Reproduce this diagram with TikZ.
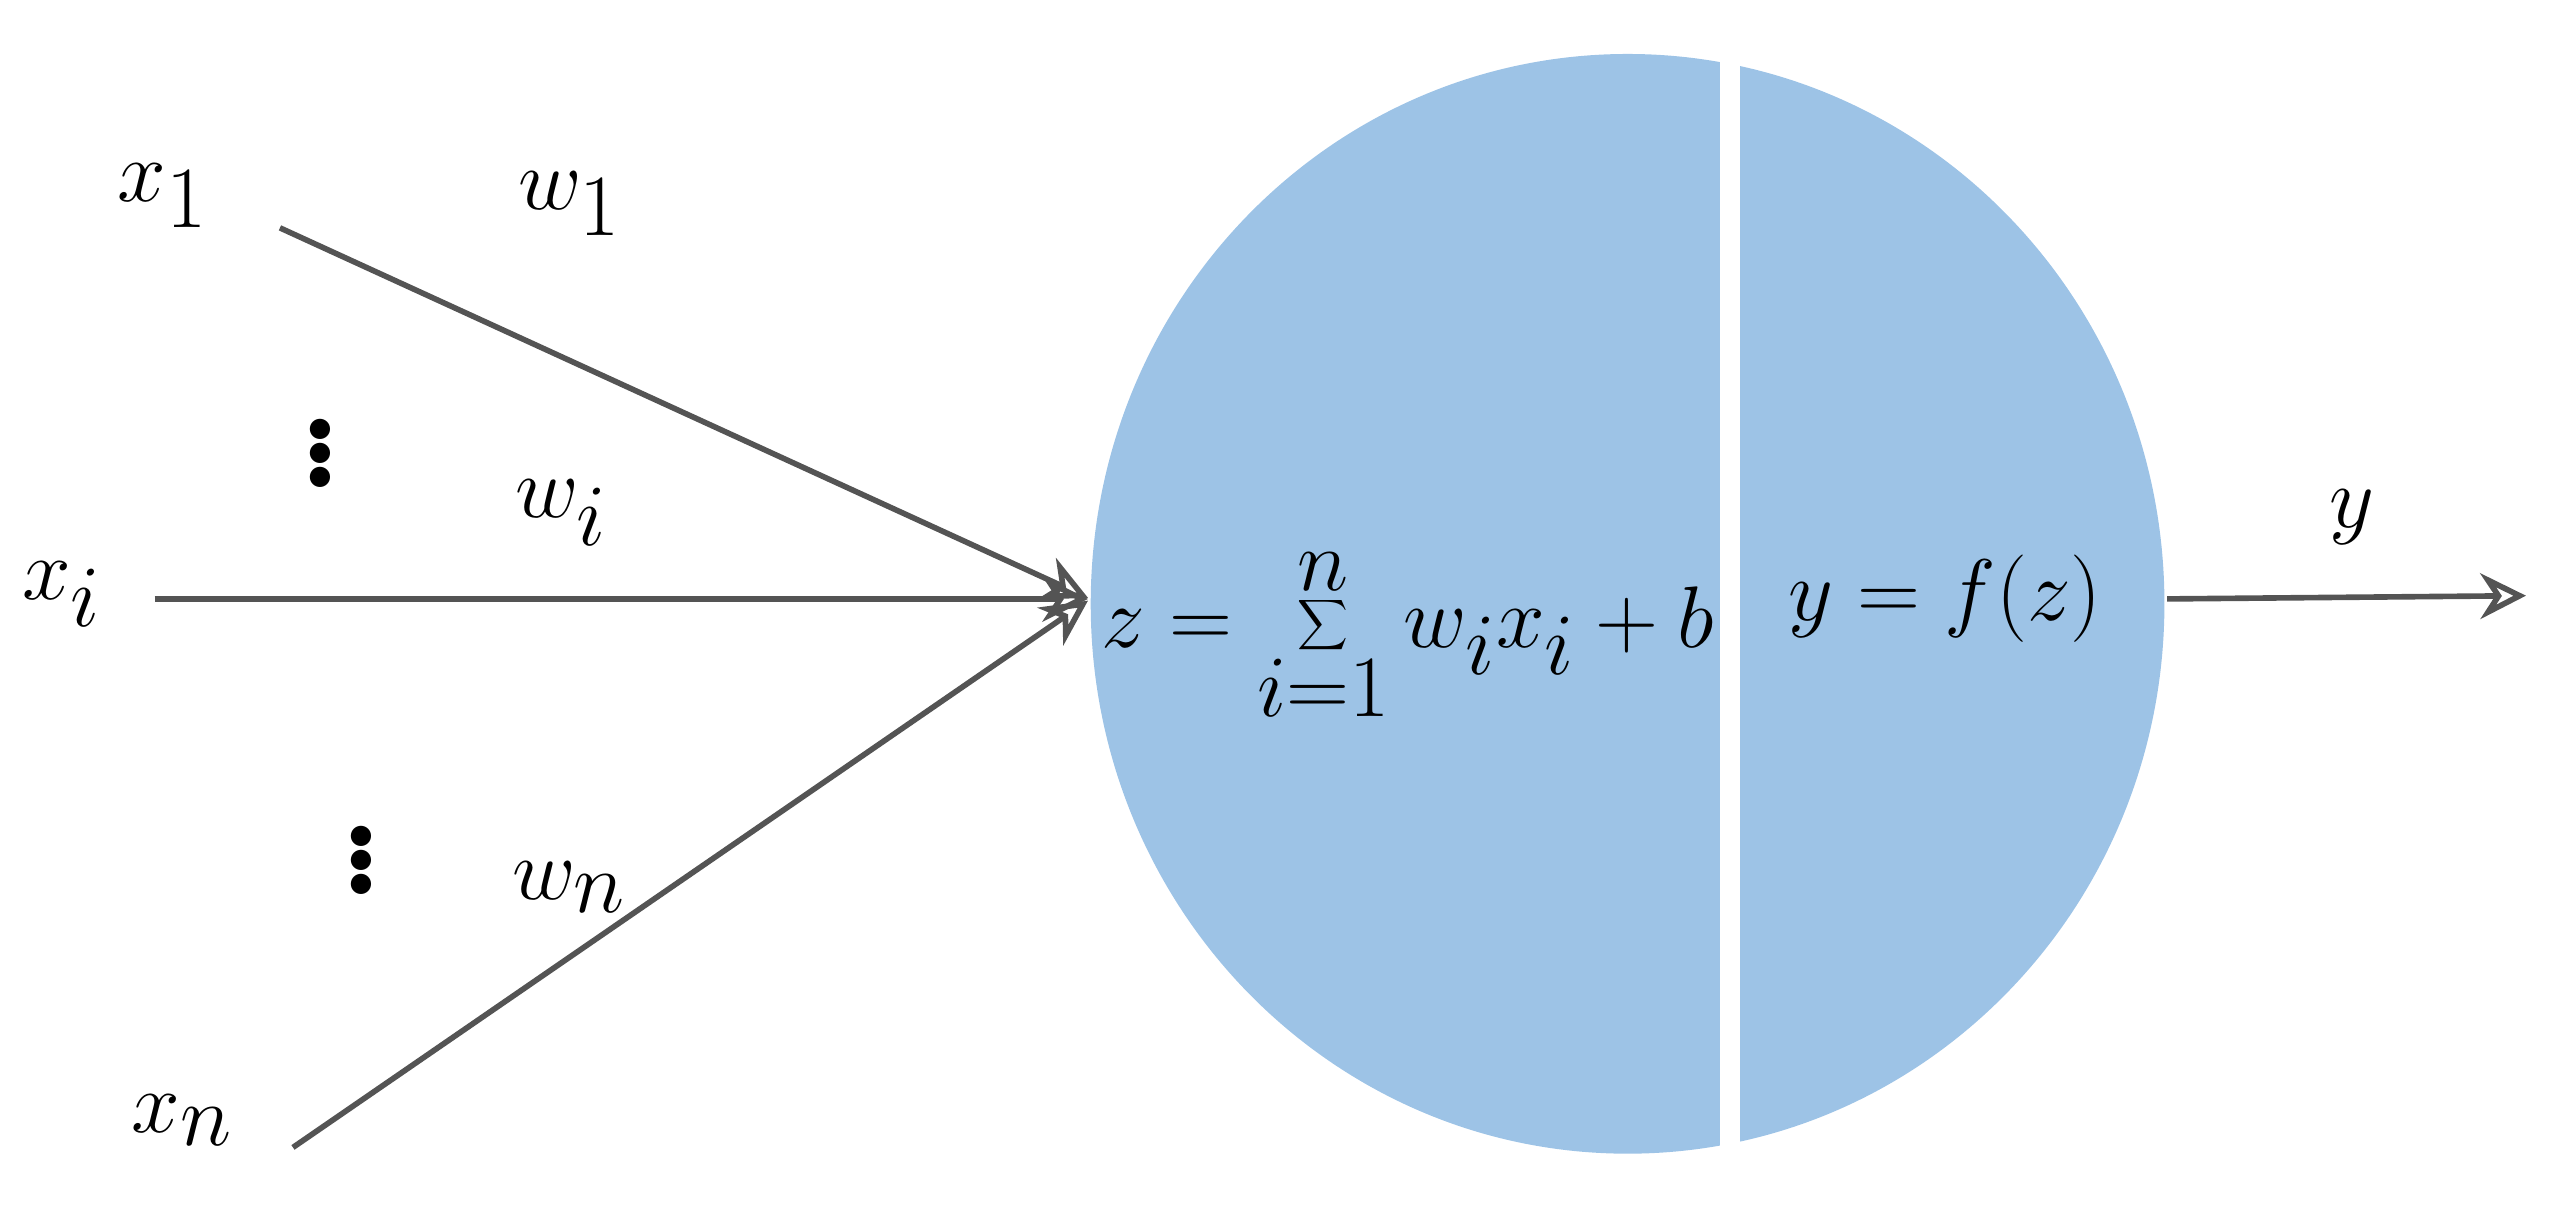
\documentclass[tikz,border=0pt]{standalone}
\usetikzlibrary{arrows.meta}
\begin{document}
\begin{tikzpicture}[x=1.628cm,y=-1.628cm,
  conn/.style={draw=black!67,line width=1.6pt},
  arr/.style={conn,-{Stealth[length=13pt,width=13pt,open,line width=1.6pt]}},
  lbl/.style={font=\fontsize{46}{54}\selectfont},
  dotsnode/.style={font=\fontsize{40}{48}\selectfont\bfseries}]
\useasboundingbox (0,0) rectangle (15.68,7.50);
\fill[fill={rgb,255:red,157;green,195;blue,230}] (10.00,3.71) ellipse [x radius=5.37cm, y radius=5.50cm];
\fill[white] (10.57,0.20) rectangle (10.69,7.20);
\node[inner sep=0] (n) at (6.70,3.68) {};
\node[inner sep=0] (o) at (13.30,3.68) {};
\coordinate (a1) at (1.72,1.40);
\coordinate (ai) at (0.95,3.68);
\coordinate (an) at (1.80,7.05);
\coordinate (out) at (15.52,3.66);
\draw[arr] (a1) -- (n);
\draw[arr] (ai) -- (n);
\draw[arr] (an) -- (n);
\draw[arr] (o) -- (out);
\node[lbl] (x1) at (1.00,1.20) {$x_1$};
\node[lbl] (w1) at (3.50,1.25) {$w_1$};
\node[lbl] (xi) at (0.38,3.65) {$x_i$};
\node[lbl] (wi) at (3.45,3.15) {$w_i$};
\node[lbl] (xn) at (1.12,6.88) {$x_n$};
\node[lbl] (wn) at (3.50,5.45) {$w_n$};
\node[lbl] (y) at (14.45,3.18) {$y$};
\node[dotsnode] (d1) at (1.97,2.72) {$\vdots$};
\node[dotsnode] (d2) at (2.22,5.22) {$\vdots$};
\node[lbl] (z) at (8.65,3.90) {$z=\displaystyle\sum_{i=1}^{n} w_i x_i + b$};
\node[lbl] (f) at (11.95,3.68) {$y=f(z)$};
\end{tikzpicture}
\end{document}
